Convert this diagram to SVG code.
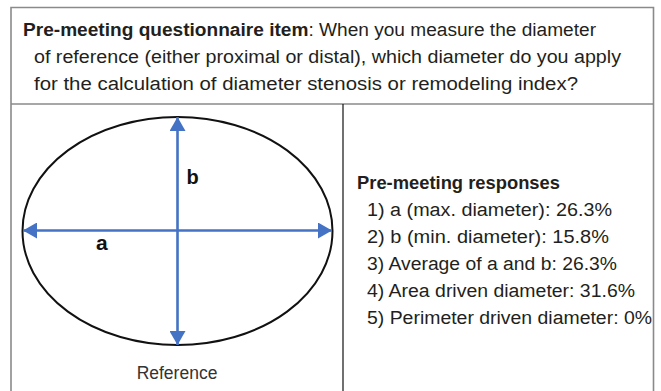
<svg xmlns="http://www.w3.org/2000/svg" width="661" height="391" viewBox="0 0 661 391">
<style>
.t{font-family:"Liberation Sans","Noto Sans",sans-serif;font-size:18px;fill:#231f20}
.b{font-weight:bold}
.lbl{font-family:"Liberation Sans",Arial,sans-serif;font-weight:bold;fill:#111}
.frame{fill:none;stroke:#8a8a8a;stroke-width:1.6}
.ax{stroke:#4472c4;stroke-width:2.6;fill:none}
</style>
<defs>
<marker id="ah" viewBox="0 0 14 16" refX="14" refY="8" markerWidth="14" markerHeight="16" markerUnits="userSpaceOnUse" orient="auto-start-reverse">
<path d="M0,0 L14,8 L0,16 Z" fill="#4472c4"/>
</marker>
</defs>
<rect width="661" height="391" fill="#fff"/>
<g id="frame">
<path class="frame" d="M11,400 V7.5 H653.5 V400"/>
<line class="frame" x1="11" y1="104" x2="653.5" y2="104"/>
<line x1="343" y1="104" x2="343" y2="400" stroke="#111" stroke-width="1.2"/>
</g>
<g id="question">
<text class="t" x="23" y="36" textLength="573" lengthAdjust="spacingAndGlyphs"><tspan class="b">Pre-meeting questionnaire item</tspan>: When you measure the diameter</text>
<text class="t" x="34" y="63" textLength="587" lengthAdjust="spacingAndGlyphs">of reference (either proximal or distal), which diameter do you apply</text>
<text class="t" x="34" y="90" textLength="544" lengthAdjust="spacingAndGlyphs">for the calculation of diameter stenosis or remodeling index?</text>
</g>
<g id="ellipse">
<ellipse cx="177.5" cy="231" rx="155" ry="114" fill="none" stroke="#111" stroke-width="2"/>
</g>
<g id="connectors">
<line class="ax" x1="23" y1="230.5" x2="332" y2="230.5" marker-start="url(#ah)" marker-end="url(#ah)"/>
<line class="ax" x1="177.5" y1="117" x2="177.5" y2="345" marker-start="url(#ah)" marker-end="url(#ah)"/>
</g>
<g id="labels">
<text class="lbl" x="186.5" y="184" font-size="20">b</text>
<text class="lbl" x="96" y="250" font-size="21">a</text>
<text class="t" x="177" y="379" text-anchor="middle" style="font-size:17.5px;fill:#333">Reference</text>
</g>
<g id="responses">
<text class="t b" x="357" y="189" textLength="203" lengthAdjust="spacingAndGlyphs">Pre-meeting responses</text>
<text class="t" x="367" y="215.5" textLength="245" lengthAdjust="spacingAndGlyphs">1) a (max. diameter): 26.3%</text>
<text class="t" x="367" y="242.5" textLength="242" lengthAdjust="spacingAndGlyphs">2) b (min. diameter): 15.8%</text>
<text class="t" x="367" y="269.5" textLength="250" lengthAdjust="spacingAndGlyphs">3) Average of a and b: 26.3%</text>
<text class="t" x="367" y="296.5" textLength="268" lengthAdjust="spacingAndGlyphs">4) Area driven diameter: 31.6%</text>
<text class="t" x="367" y="323.5" textLength="285" lengthAdjust="spacingAndGlyphs">5) Perimeter driven diameter: 0%</text>
</g>
</svg>
